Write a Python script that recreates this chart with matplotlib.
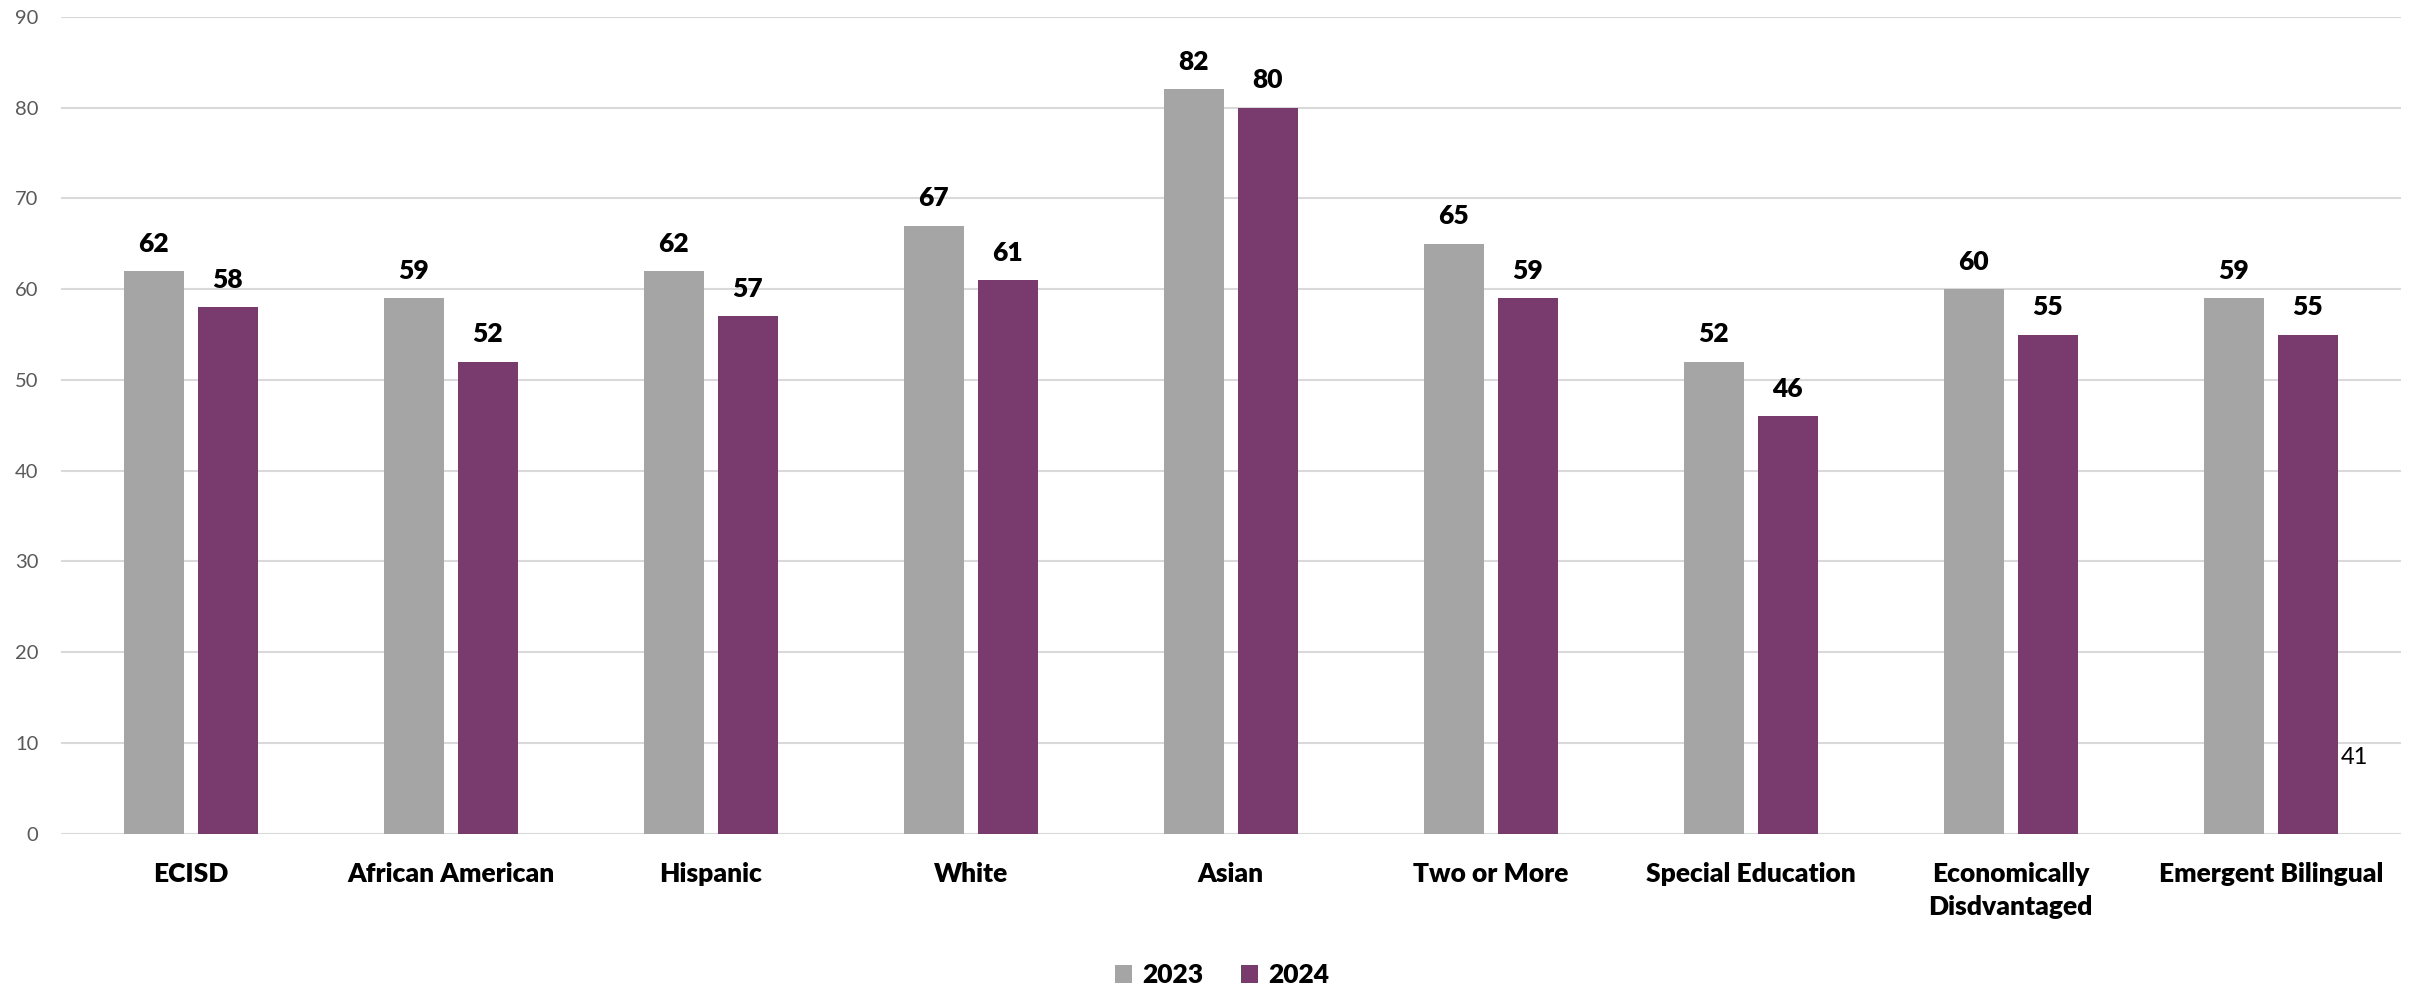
import numpy as np
import matplotlib.pyplot as plt

categories = ["ECISD", "African American", "Hispanic", "White", "Asian",
              "Two or More", "Special Education", "Economically\nDisdvantaged",
              "Emergent Bilingual"]
vals_2023 = [62, 59, 62, 67, 82, 65, 52, 60, 59]
vals_2024 = [58, 52, 57, 61, 80, 59, 46, 55, 55]
stray_label = "41"

GREY = "#A5A5A5"
PURPLE = "#793B6E"

plt.rcParams['font.family'] = ['Lato', 'DejaVu Sans']

fig = plt.figure(figsize=(24.25, 9.89), dpi=100)
ax = fig.add_axes([0.025, 0.157, 0.965, 0.826])

x = np.arange(len(categories))
w = 0.231
off = 0.1425
b1 = ax.bar(x - off, vals_2023, w, color=GREY, label="2023", zorder=3)
b2 = ax.bar(x + off, vals_2024, w, color=PURPLE, label="2024", zorder=3)

for bars in (b1, b2):
    for rect in bars:
        ax.annotate(f"{int(rect.get_height())}",
                    (rect.get_x() + rect.get_width() / 2, rect.get_height()),
                    xytext=(0, 11), textcoords="offset points",
                    ha="center", va="bottom", fontsize=19, fontweight="heavy")

# stray data label next to the last purple bar
last = b2[-1]
ax.text(last.get_x() + last.get_width() + 0.01, 8.4, stray_label,
        ha="left", va="center", fontsize=17, color="black")

ax.set_xlim(-0.5, len(categories) - 0.5)
ax.set_ylim(0, 90)
ax.set_yticks(range(0, 91, 10))
ax.yaxis.grid(True, color="#D9D9D9", linewidth=1.5, zorder=0)
ax.tick_params(axis="y", length=0, labelsize=14.5, labelcolor="#595959", pad=16)
ax.tick_params(axis="x", length=0, pad=20)
ax.set_xticks(x)
ax.set_xticklabels(categories, fontsize=19, fontweight="heavy", va="top",
                   linespacing=1.45)
for s in ax.spines.values():
    s.set_visible(False)

fig.legend(handles=[b1, b2], loc="lower center", bbox_to_anchor=(0.504, -0.022),
           ncol=2, frameon=False, prop={"size": 19, "weight": "heavy"},
           handlelength=0.65, handleheight=0.65, handletextpad=0.4,
           columnspacing=1.4)

fig.savefig("out.png", dpi=100)
